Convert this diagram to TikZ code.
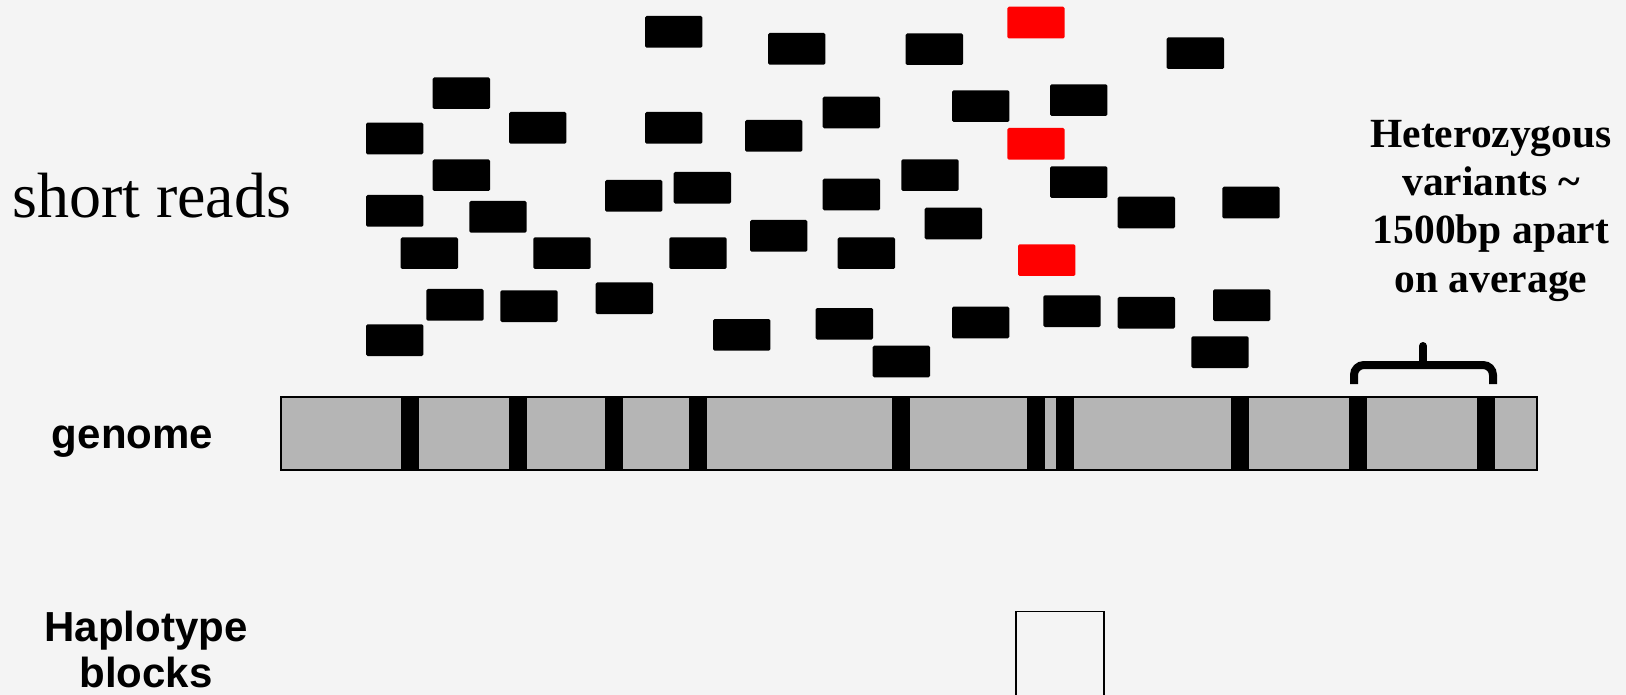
\documentclass[tikz,border=0pt]{standalone}
\usepackage{fontspec}
\setmainfont{Liberation Serif}
\newfontfamily\arialf{Liberation Sans}
\definecolor{bgc}{HTML}{F4F4F4}
\definecolor{genomegray}{HTML}{B5B5B5}
\definecolor{readred}{HTML}{FF0000}
\tikzset{
  readbox/.style={fill=black, rounded corners=1.5pt},
  redread/.style={fill=readred, rounded corners=1.5pt},
  variantbar/.style={fill=black},
  sanslabel/.style={font=\arialf\bfseries\fontsize{42}{46}\selectfont, align=center, inner sep=0pt},
}
\begin{document}
\begin{tikzpicture}[x=1pt,y=-1pt]
\fill[bgc] (0,0) rectangle (1626,695);
\useasboundingbox (0,0) rectangle (1626,695);
\clip (0,0) rectangle (1626,695);
% short reads
\foreach \x/\y in {645/16,768/33,905.7/33.3,1166.7/37.3,432.7/77.3,822.7/96.7,952/90.3,1050/84.3,
  366/122.7,509/112,645/112,745/120,432.7/159.3,605/180,673.7/172,901.3/159.3,822.7/178.7,1050/166.3,
  1117.7/196.7,1222.3/186.7,366/195,469.3/201,750/220,924.7/207.7,400.7/237.3,533.3/237.3,669.3/237.3,
  837.7/237.3,426.3/289,500.3/290.3,595.7/282.3,713/319,815.7/308,952/306.7,1043.3/295.3,1117.7/297,
  1213/289.3,366/324.3,872.7/345.7,1191.3/336.3}
  {\fill[readbox] (\x,\y) rectangle ++(57.3,31.7);}
\foreach \x/\y in {1007.3/6.7,1007.3/128,1018/244.3}
  {\fill[redread] (\x,\y) rectangle ++(57.3,31.7);}
% genome
\fill[genomegray] (281,397) rectangle (1537,470);
\foreach \c in {409.5,517.7,614,698,901,1036.4,1065,1239.5,1357.7,1486}
  {\fill[variantbar] (\c-9,397) rectangle (\c+9,470);}
\draw[line width=2pt] (281,397) rectangle (1537,470);
% brace
\draw[line width=8pt, rounded corners=10pt] (1354,384) -- (1354,365) -- (1493,365) -- (1493,384);
\draw[line width=8pt, line cap=round] (1423,364) -- (1423,346);
% haplotype block
\draw[line width=1.5pt] (1016,720) -- (1016,611.7) -- (1104,611.7) -- (1104,720);
% labels
\node[anchor=base west, inner sep=0pt, font=\fontsize{64}{72}\selectfont] (sr) at (12,218) {short reads};
\node[sanslabel, anchor=base] (gen) at (132.5,448) {genome};
\node[sanslabel, anchor=base] (hap) at (146,687) {Haplotype\\blocks};
\node[anchor=base, inner sep=0pt, align=center, font=\bfseries\fontsize{41.5}{48.3}\selectfont] (het) at (1491,292)
  {Heterozygous\\variants \textasciitilde\\1500bp apart\\on average};
\end{tikzpicture}
\end{document}
